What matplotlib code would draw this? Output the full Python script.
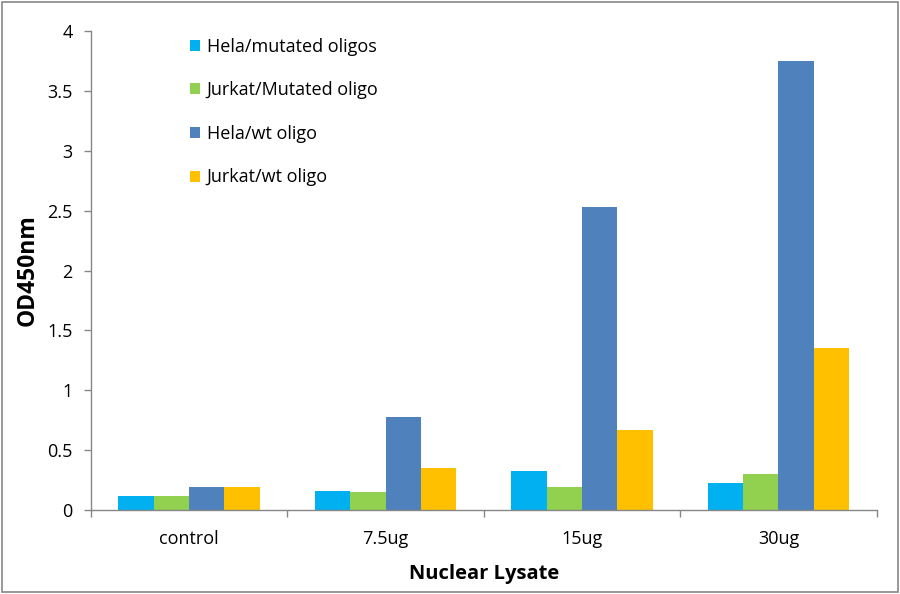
import numpy as np
import matplotlib
matplotlib.use("Agg")
import matplotlib.pyplot as plt
from matplotlib.patches import Rectangle

# data
categories = ["control", "7.5ug", "15ug", "30ug"]
series_names = ["Hela/mutated oligos", "Jurkat/Mutated oligo", "Hela/wt oligo", "Jurkat/wt oligo"]
hela_mut = [0.12, 0.16, 0.33, 0.23]
jurkat_mut = [0.12, 0.15, 0.19, 0.30]
hela_wt = [0.19, 0.78, 2.53, 3.75]
jurkat_wt = [0.19, 0.35, 0.67, 1.35]
colors = ["#00B0F0", "#92D050", "#4F81BD", "#FFC000"]

plt.rcParams['font.family'] = ['Open Sans', 'DejaVu Sans']

fig = plt.figure(figsize=(9, 5.94), dpi=100)
ax = fig.add_axes([0.101, 0.141, 0.873, 0.807])

# grey border round the whole picture
fig.patches.append(Rectangle((0.002, 0.003), 0.996, 0.994, transform=fig.transFigure,
                             fill=False, edgecolor="#888888", linewidth=1.2))

x = np.arange(len(categories))
w = 0.18
all_series = [hela_mut, jurkat_mut, hela_wt, jurkat_wt]
for i, vals in enumerate(all_series):
    ax.bar(x + (i - 1.5) * w, vals, w, color=colors[i], label=series_names[i])

ax.set_xlim(-0.5, 3.5)
ax.set_ylim(0, 4)
ax.set_yticks(np.arange(0, 4.01, 0.5))
ax.set_yticklabels(["0", "0.5", "1", "1.5", "2", "2.5", "3", "3.5", "4"])
ax.set_xticks(x)
ax.set_xticklabels(categories)
ax.set_xticks(np.arange(-0.5, 3.51, 1), minor=True)
ax.tick_params(axis='x', which='major', length=0, pad=14, labelsize=13)
ax.tick_params(axis='x', which='minor', length=5, color="#868686", width=1)
ax.tick_params(axis='y', length=5, color="#868686", width=1, labelsize=13, pad=8)

for s in ["top", "right"]:
    ax.spines[s].set_visible(False)
for s in ["left", "bottom"]:
    ax.spines[s].set_color("#868686")
    ax.spines[s].set_linewidth(1)

ax.set_ylabel("OD450nm", fontsize=16.5, fontweight="bold", labelpad=6)
ax.set_xlabel("Nuclear Lysate", fontsize=14.5, fontweight="bold", labelpad=12)

leg = ax.legend(loc="upper left", bbox_to_anchor=(0.105, 1.02), frameon=False,
                fontsize=13, handlelength=0.55, handleheight=0.55, handletextpad=0.4,
                labelspacing=1.42)

fig.savefig("out.png", dpi=100)
